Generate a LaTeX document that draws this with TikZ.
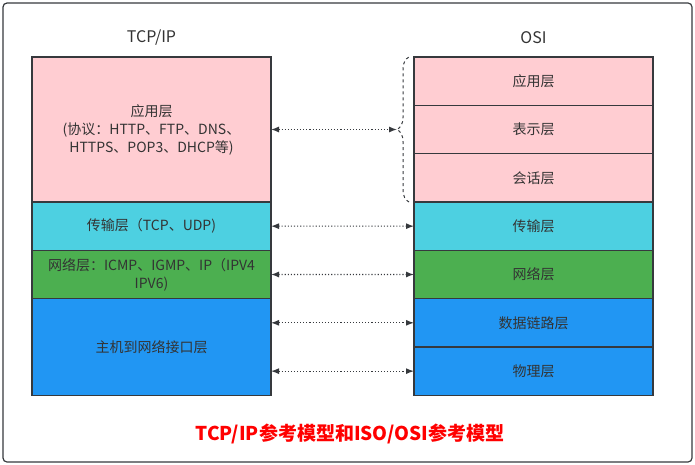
\documentclass[tikz,border=0pt]{standalone}
\usepackage{fontspec}
\setmainfont{Noto Sans CJK SC}
\usepackage{xcolor}
\usetikzlibrary{arrows, arrows.meta, positioning, decorations.pathreplacing}

\definecolor{edge}{HTML}{36393D}
\definecolor{txt}{HTML}{333333}
\definecolor{apppink}{HTML}{FFCDD2}
\definecolor{transcyan}{HTML}{4DD0E1}
\definecolor{netgreen}{HTML}{4CAF50}
\definecolor{hostblue}{HTML}{2196F3}

\begin{document}
\begin{tikzpicture}[x=1pt, y=-1pt,
    layer/.style={draw=edge, line width=1.2pt, minimum width=239pt, minimum height=48.33pt,
      inner sep=0pt, outer sep=0pt, text=txt, align=center, font=\fontsize{14}{18}\selectfont},
    title/.style={text=txt, font=\fontsize{16}{18}\selectfont},
    link/.style={{Latex[length=8pt, width=6pt]}-{Latex[length=8pt, width=6pt]},
      dotted, line width=1.1pt, draw=edge}]
  \useasboundingbox (0,0) rectangle (695,465);
  \draw [rounded corners=4pt, line width=1.2pt, draw=edge] (3,3) rectangle (692,462);
  % TCP/IP stack
  \node [title] (tcpip) at (151.5,38) {TCP/IP};
  \node [layer, fill=apppink, minimum height=145pt] (tapp) at (151.5,129.5)
    {应用层\\(协议：HTTP、FTP、DNS、\\HTTPS、POP3、DHCP等)};
  \node [layer, fill=transcyan, below=0pt of tapp] (ttrans) {传输层（TCP、UDP)};
  \node [layer, fill=netgreen, below=0pt of ttrans] (tnet) {网络层：ICMP、IGMP、IP（IPV4\\IPV6)};
  \node [layer, fill=hostblue, below=0pt of tnet, minimum height=96.67pt] (thost) {主机到网络接口层};
  % OSI stack
  \node [title] (osi) at (533.5,38) {OSI};
  \node [layer, fill=apppink] (oapp) at (533.5,81.17) {应用层};
  \node [layer, fill=apppink, below=0pt of oapp] (opres) {表示层};
  \node [layer, fill=apppink, below=0pt of opres] (osess) {会话层};
  \node [layer, fill=transcyan, below=0pt of osess] (otrans) {传输层};
  \node [layer, fill=netgreen, below=0pt of otrans] (onet) {网络层};
  \node [layer, fill=hostblue, below=0pt of onet] (olink) {数据链路层};
  \node [layer, fill=hostblue, below=0pt of olink] (ophys) {物理层};
  % brace over the upper three OSI layers
  \draw [dashed, draw=edge, line width=1pt, decorate, decoration={brace, amplitude=12pt}]
    (409,202) -- (409,57);
  \coordinate (btip) at (397,129.5);
  % mapping arrows
  \draw [link] (tapp.east) -- (btip);
  \draw [link] (ttrans.east) -- (otrans.west);
  \draw [link] (tnet.east) -- (onet.west);
  \draw [link] (olink.west -| thost.east) -- (olink.west);
  \draw [link] (ophys.west -| thost.east) -- (ophys.west);
  % caption
  \node [text=red, font=\fontsize{19}{21}\selectfont\bfseries] (caption) at (350,434)
    {TCP/IP参考模型和ISO/OSI参考模型};
\end{tikzpicture}
\end{document}
